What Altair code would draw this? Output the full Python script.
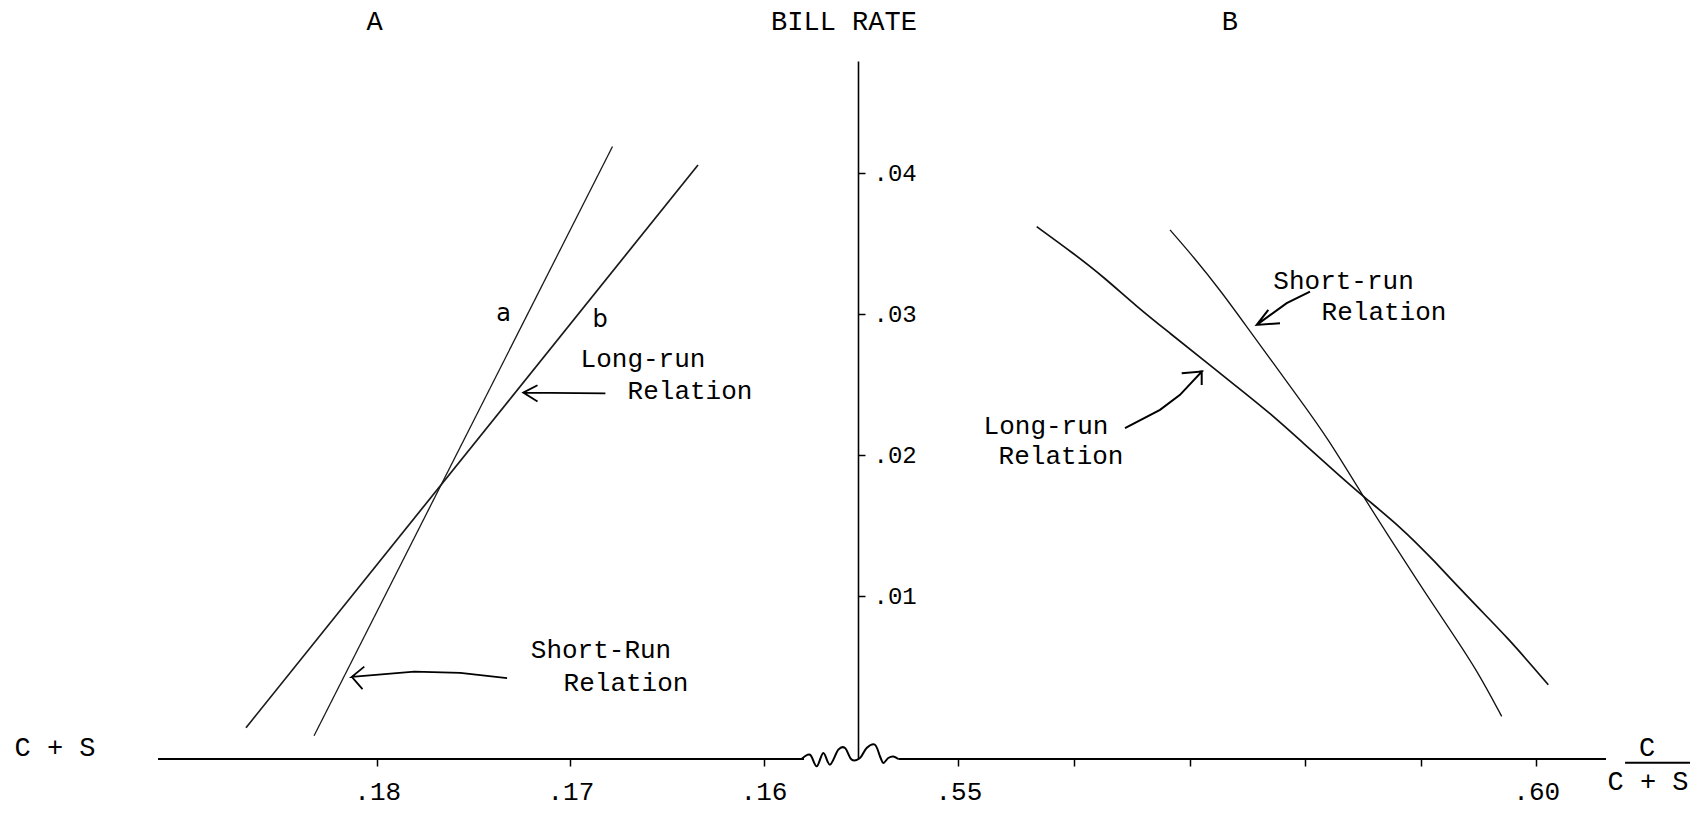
import altair as alt
import pandas as pd

# ---------------- data ----------------
# Panel A (left): C/(C+S) decreasing to the right, bill rate on the vertical
a_short_x = [0.18327, 0.167818]
a_short_y = [0.00009, 0.041895]
a_long_x = [0.186793, 0.163391]
a_long_y = [0.00066, 0.040583]

# Panel B (right)
b_long_x = [0.556776, 0.559943, 0.562539, 0.565429, 0.568311, 0.571192, 0.574083, 0.576964,
            0.579846, 0.582737, 0.585039, 0.588214, 0.591096, 0.594558, 0.597448, 0.601047]
b_long_y = [0.036207, 0.034321, 0.032662, 0.030535, 0.028648, 0.026755, 0.024862, 0.022976,
            0.020848, 0.018721, 0.017061, 0.014934, 0.012573, 0.009502, 0.007134, 0.003709]
b_short_x = [0.568311, 0.570327, 0.572638, 0.574948, 0.577250, 0.579561, 0.581871, 0.585039,
             0.587063, 0.589659, 0.592541, 0.594853, 0.597015]
b_short_y = [0.035974, 0.034080, 0.031719, 0.029116, 0.026521, 0.023919, 0.021316, 0.017061,
             0.014466, 0.011154, 0.007609, 0.004772, 0.001461]

# tick values
a_ticks = [0.18, 0.17, 0.16]
b_ticks = [0.55, 0.56, 0.57, 0.58, 0.59, 0.60]
y_ticks = [0.01, 0.02, 0.03, 0.04]

# scale domains
A_DOMAIN = [0.116381, 0.191349]
B_DOMAIN = [0.480737, 0.60604]
Y_DOMAIN = [-0.00156, 0.04796]

# horizontal axis pieces and the break squiggle
a_axis_x = [0.191349, 0.157903]
b_axis_x = [0.5448, 0.60604]
squig_x = [0.53644, 0.53716, 0.53774, 0.53831, 0.53889, 0.53961, 0.54019, 0.54077,
           0.54148, 0.54206, 0.54278, 0.54322, 0.5435, 0.54393, 0.54437, 0.5448]
squig_y = [-0.00156, -0.00126, -0.00208, -0.00113, -0.00196, -0.0009, -0.00078, -0.00161,
           -0.00149, -0.00078, -0.00055, -0.00138, -0.00184, -0.00149, -0.00138, -0.00156]

# annotation arrows
arrow_a_long_x = [0.168185, 0.172441, 0.171701, 0.172441, 0.171701]
arrow_a_long_y = [0.024379, 0.024436, 0.024961, 0.024436, 0.023805]
arrow_a_short_x = [0.173275, 0.175700, 0.178079, 0.181315, 0.180668, 0.181315, 0.180761]
arrow_a_short_y = [0.004177, 0.004550, 0.004645, 0.004269, 0.004992, 0.004269, 0.003397]
arrow_b_short_x = [0.580426, 0.578410, 0.575813, 0.576818, 0.575813, 0.577830]
arrow_b_short_y = [0.031598, 0.030776, 0.029237, 0.030301, 0.029237, 0.029358]
arrow_b_long_x = [0.564417, 0.567446, 0.569177, 0.571054, 0.569323, 0.571054, 0.571054]
arrow_b_long_y = [0.021912, 0.023210, 0.024273, 0.025925, 0.025812, 0.025925, 0.024982]

# annotation texts
a_labels = ["Long-run", "Relation", "Short-Run", "Relation"]
a_labels_x = [0.166239, 0.163805, 0.168413, 0.167119]
a_labels_y = [0.026826, 0.024557, 0.006148, 0.003851]
a_letters = ["a", "b"]
a_letters_x = [0.173456, 0.168465]
a_letters_y = [0.030017, 0.029593]
b_labels = ["Short-run", "Relation", "Long-run", "Relation"]
b_labels_x = [0.58333, 0.58683, 0.55758, 0.55888]
b_labels_y = [0.03236, 0.03017, 0.02210, 0.01991]

a_heads = ["A", "C + S"]
a_heads_x = [0.180135, 0.196681]
a_heads_y = [0.05072, -0.000759]
b_heads = ["BILL RATE", "B", "C", "C + S"]
b_heads_x = [0.5401, 0.5735, 0.60959, 0.60968]
b_heads_y = [0.05072, 0.05072, -0.000759, -0.00317]
frac_bar_x = [0.60769, 0.61332]
frac_bar_y = [-0.001822]

# ---------------- chart ----------------
FONT = "Liberation Mono"
XA = alt.Scale(domain=A_DOMAIN, reverse=True, nice=False, zero=False)
XB = alt.Scale(domain=B_DOMAIN, nice=False, zero=False)
YS = alt.Scale(domain=Y_DOMAIN, nice=False, zero=False)
lab = "substring(format(datum.value, '.2f'), 1)"

axis_a = alt.Axis(orient="bottom", values=a_ticks, labelExpr=lab, domain=False,
                  ticks=True, tickSize=7, tickColor="black", tickWidth=1.5,
                  labelFont=FONT, labelFontSize=26, labelColor="black",
                  labelPadding=12, labelOverlap=False, labelFlush=False,
                  grid=False, title=None)
axis_b = alt.Axis(orient="bottom", values=b_ticks,
                  labelExpr="(abs(datum.value-0.55)<0.001 || abs(datum.value-0.6)<0.001) ? "
                            "substring(format(datum.value, '.2f'), 1) : ''",
                  domain=False, ticks=True, tickSize=7, tickColor="black", tickWidth=1.5,
                  labelFont=FONT, labelFontSize=26, labelColor="black",
                  labelPadding=12, labelOverlap=False, labelFlush=False,
                  grid=False, title=None)
axis_y = alt.Axis(orient="right", offset=-748, values=y_ticks, labelExpr=lab,
                  domain=True, domainColor="black", domainWidth=1.6,
                  ticks=True, tickSize=7, tickColor="black", tickWidth=1.5,
                  labelFont=FONT, labelFontSize=24, labelColor="black",
                  labelPadding=8, labelOverlap=False, labelFlush=False,
                  grid=False, title=None)


def xa():
    return alt.X("x:Q", scale=XA, axis=axis_a)


def xb():
    return alt.X("x:Q", scale=XB, axis=axis_b)


def ys():
    return alt.Y("y:Q", scale=YS, axis=axis_y)


def line_df(xs, ys_, name):
    return pd.DataFrame({"x": xs, "y": ys_, "s": name, "o": list(range(len(xs)))})


# ---- left group ----
a_lines = pd.concat([line_df(a_short_x, a_short_y, "short"),
                     line_df(a_long_x, a_long_y, "long")])
a_line_chart = alt.Chart(a_lines).mark_line(color="#1a1a1a").encode(
    x=xa(), y=ys(), detail="s:N", order="o:Q",
    strokeWidth=alt.StrokeWidth("s:N", scale=alt.Scale(domain=["short", "long"], range=[1.3, 1.7]),
                                legend=None))

a_axis_df = pd.DataFrame({"x": [a_axis_x[0]], "x2": [a_axis_x[1]], "y": [Y_DOMAIN[0]]})
a_axis_rule = alt.Chart(a_axis_df).mark_rule(color="black", strokeWidth=2.2).encode(
    x=xa(), x2="x2:Q", y=ys())

a_arrows = pd.concat([line_df(arrow_a_long_x, arrow_a_long_y, "al"),
                      line_df(arrow_a_short_x, arrow_a_short_y, "as")])
a_arrow_chart = alt.Chart(a_arrows).mark_line(color="black", strokeWidth=1.8).encode(
    x=xa(), y=ys(), detail="s:N", order="o:Q")

a_text_df = pd.DataFrame({"x": a_labels_x, "y": a_labels_y, "t": a_labels})
a_text = alt.Chart(a_text_df).mark_text(font=FONT, fontSize=26, color="black").encode(
    x=xa(), y=ys(), text="t:N")

a_let_df = pd.DataFrame({"x": a_letters_x, "y": a_letters_y, "t": a_letters})
a_let = alt.Chart(a_let_df).mark_text(font="DejaVu Sans", fontSize=24, color="black").encode(
    x=xa(), y=ys(), text="t:N")

a_head_df = pd.DataFrame({"x": a_heads_x, "y": a_heads_y, "t": a_heads})
a_head = alt.Chart(a_head_df).mark_text(font=FONT, fontSize=27, color="black").encode(
    x=xa(), y=ys(), text="t:N")

left = alt.layer(a_line_chart, a_axis_rule, a_arrow_chart, a_text, a_let, a_head)

# ---- right group ----
b_lines = pd.concat([line_df(b_long_x, b_long_y, "long"),
                     line_df(b_short_x, b_short_y, "short")])
b_line_chart = alt.Chart(b_lines).mark_line(color="#111111", interpolate="basis").encode(
    x=xb(), y=ys(), detail="s:N", order="o:Q",
    strokeWidth=alt.StrokeWidth("s:N", scale=alt.Scale(domain=["short", "long"], range=[1.2, 2.2]),
                                legend=None))

b_axis_df = pd.DataFrame({"x": [b_axis_x[0]], "x2": [b_axis_x[1]], "y": [Y_DOMAIN[0]]})
b_axis_rule = alt.Chart(b_axis_df).mark_rule(color="black", strokeWidth=2.0).encode(
    x=xb(), x2="x2:Q", y=ys())

squig_df = line_df(squig_x, squig_y, "sq")
squig = alt.Chart(squig_df).mark_line(color="black", strokeWidth=2.0,
                                      interpolate="cardinal").encode(
    x=xb(), y=ys(), order="o:Q")

b_arrows = pd.concat([line_df(arrow_b_short_x, arrow_b_short_y, "bs"),
                      line_df(arrow_b_long_x, arrow_b_long_y, "bl")])
b_arrow_chart = alt.Chart(b_arrows).mark_line(color="black", strokeWidth=2.0).encode(
    x=xb(), y=ys(), detail="s:N", order="o:Q")

b_text_df = pd.DataFrame({"x": b_labels_x, "y": b_labels_y, "t": b_labels})
b_text = alt.Chart(b_text_df).mark_text(font=FONT, fontSize=26, color="black").encode(
    x=xb(), y=ys(), text="t:N")

b_head_df = pd.DataFrame({"x": b_heads_x, "y": b_heads_y, "t": b_heads})
b_head = alt.Chart(b_head_df).mark_text(font=FONT, fontSize=27, color="black").encode(
    x=xb(), y=ys(), text="t:N")

frac_df = pd.DataFrame({"x": [frac_bar_x[0]], "x2": [frac_bar_x[1]], "y": frac_bar_y})
frac = alt.Chart(frac_df).mark_rule(color="black", strokeWidth=2.0).encode(
    x=xb(), x2="x2:Q", y=ys())

right = alt.layer(b_line_chart, b_axis_rule, squig, b_arrow_chart, b_text, b_head, frac)

chart = alt.layer(left, right).resolve_scale(x="independent").properties(
    width=1448, height=698,
    autosize=alt.AutoSizeParams(type="none"),
    padding={"left": 150, "top": 53, "right": 84, "bottom": 52},
    background="white",
).configure_view(stroke=None)

chart.save("out.html", embed_options={"renderer": "svg", "actions": False})
